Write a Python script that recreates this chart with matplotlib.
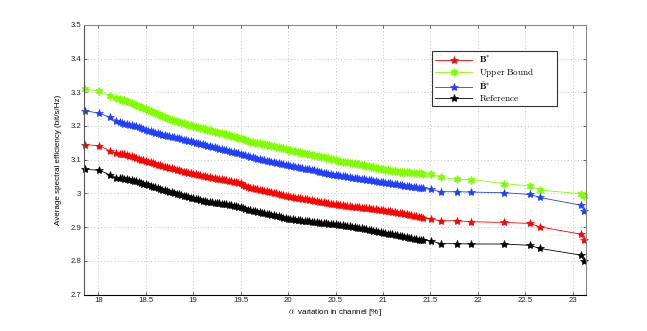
import matplotlib

matplotlib.use("Agg")
import matplotlib.pyplot as plt

# alpha variation in channel [%] -- a few sparse points, a dense run, then sparse again
alpha_pct = [
    17.86, 18.01, 18.12, 18.19,
    18.225, 18.25, 18.275, 18.30, 18.325, 18.35, 18.375, 18.40,
    18.425, 18.45, 18.475, 18.50, 18.525, 18.55, 18.575, 18.60,
    18.625, 18.65, 18.675, 18.70, 18.725, 18.75, 18.775, 18.80,
    18.825, 18.85, 18.875, 18.90, 18.925, 18.95, 18.975, 19.00,
    19.025, 19.05, 19.075, 19.10, 19.125, 19.15, 19.175, 19.20,
    19.225, 19.25, 19.275, 19.30, 19.325, 19.35, 19.375, 19.40,
    19.425, 19.45, 19.475, 19.50, 19.525, 19.55, 19.575, 19.60,
    19.625, 19.65, 19.675, 19.70, 19.725, 19.75, 19.775, 19.80,
    19.825, 19.85, 19.875, 19.90, 19.925, 19.95, 19.975, 20.00,
    20.025, 20.05, 20.075, 20.10, 20.125, 20.15, 20.175, 20.20,
    20.225, 20.25, 20.275, 20.30, 20.325, 20.35, 20.375, 20.40,
    20.425, 20.45, 20.475, 20.50, 20.525, 20.55, 20.575, 20.60,
    20.625, 20.65, 20.675, 20.70, 20.725, 20.75, 20.775, 20.80,
    20.825, 20.85, 20.875, 20.90, 20.925, 20.95, 20.975, 21.00,
    21.025, 21.05, 21.075, 21.10, 21.125, 21.15, 21.175, 21.20,
    21.225, 21.25, 21.275, 21.30, 21.325, 21.35, 21.375, 21.40,
    21.425,
    21.51, 21.61, 21.78, 21.93, 22.28, 22.55, 22.65, 23.09, 23.12,
]

b_star = [
    3.145, 3.141, 3.127, 3.119,
    3.118, 3.117, 3.116, 3.114, 3.112, 3.110, 3.107, 3.105,
    3.102, 3.100, 3.098, 3.096, 3.094, 3.092, 3.090, 3.088,
    3.085, 3.083, 3.081, 3.079, 3.077, 3.076, 3.074, 3.072,
    3.070, 3.068, 3.066, 3.065, 3.063, 3.062, 3.060, 3.059,
    3.057, 3.056, 3.054, 3.053, 3.051, 3.050, 3.048, 3.047,
    3.045, 3.044, 3.043, 3.042, 3.040, 3.039, 3.037, 3.036,
    3.034, 3.033, 3.031, 3.030, 3.026, 3.023, 3.020, 3.017,
    3.015, 3.014, 3.012, 3.011, 3.009, 3.008, 3.006, 3.005,
    3.003, 3.002, 3.000, 2.998, 2.996, 2.994, 2.992, 2.991,
    2.990, 2.989, 2.987, 2.986, 2.985, 2.984, 2.983, 2.982,
    2.981, 2.980, 2.978, 2.977, 2.976, 2.975, 2.974, 2.973,
    2.971, 2.970, 2.969, 2.968, 2.967, 2.966, 2.965, 2.964,
    2.963, 2.962, 2.961, 2.961, 2.960, 2.959, 2.958, 2.957,
    2.956, 2.956, 2.955, 2.954, 2.953, 2.952, 2.951, 2.950,
    2.949, 2.948, 2.947, 2.946, 2.944, 2.943, 2.942, 2.941,
    2.939, 2.938, 2.936, 2.935, 2.933, 2.932, 2.930, 2.929,
    2.927,
    2.924, 2.919, 2.919, 2.916, 2.914, 2.911, 2.901, 2.879, 2.861,
]

upper_bound = [
    3.309, 3.304, 3.290, 3.282,
    3.280, 3.278, 3.277, 3.274, 3.270, 3.268, 3.264, 3.261,
    3.259, 3.256, 3.253, 3.251, 3.248, 3.245, 3.241, 3.239,
    3.236, 3.233, 3.230, 3.227, 3.225, 3.222, 3.219, 3.217,
    3.215, 3.213, 3.210, 3.209, 3.206, 3.204, 3.202, 3.200,
    3.198, 3.196, 3.195, 3.193, 3.191, 3.189, 3.187, 3.185,
    3.183, 3.181, 3.180, 3.178, 3.176, 3.175, 3.173, 3.171,
    3.169, 3.167, 3.165, 3.163, 3.160, 3.158, 3.155, 3.153,
    3.152, 3.151, 3.150, 3.149, 3.148, 3.147, 3.145, 3.144,
    3.142, 3.141, 3.139, 3.138, 3.136, 3.134, 3.132, 3.130,
    3.128, 3.127, 3.125, 3.124, 3.122, 3.121, 3.119, 3.118,
    3.116, 3.115, 3.113, 3.112, 3.110, 3.109, 3.107, 3.106,
    3.104, 3.102, 3.101, 3.099, 3.097, 3.096, 3.094, 3.093,
    3.092, 3.091, 3.090, 3.089, 3.087, 3.086, 3.084, 3.083,
    3.081, 3.080, 3.078, 3.077, 3.075, 3.074, 3.072, 3.071,
    3.070, 3.069, 3.068, 3.067, 3.066, 3.066, 3.065, 3.065,
    3.064, 3.063, 3.063, 3.062, 3.061, 3.061, 3.060, 3.060,
    3.059,
    3.057, 3.048, 3.042, 3.041, 3.029, 3.022, 3.010, 2.999, 2.993,
]

b_hat_star = [
    3.245, 3.238, 3.226, 3.216,
    3.213, 3.210, 3.207, 3.205, 3.203, 3.202, 3.200, 3.199,
    3.196, 3.193, 3.190, 3.188, 3.186, 3.184, 3.182, 3.180,
    3.178, 3.176, 3.174, 3.172, 3.170, 3.169, 3.167, 3.166,
    3.164, 3.163, 3.161, 3.159, 3.157, 3.156, 3.154, 3.153,
    3.151, 3.149, 3.147, 3.146, 3.144, 3.142, 3.140, 3.139,
    3.137, 3.135, 3.133, 3.131, 3.129, 3.128, 3.126, 3.124,
    3.122, 3.121, 3.119, 3.117, 3.115, 3.113, 3.111, 3.109,
    3.107, 3.105, 3.103, 3.101, 3.100, 3.098, 3.096, 3.095,
    3.093, 3.092, 3.090, 3.089, 3.087, 3.086, 3.085, 3.084,
    3.082, 3.081, 3.079, 3.078, 3.076, 3.075, 3.073, 3.072,
    3.071, 3.070, 3.068, 3.067, 3.065, 3.064, 3.062, 3.061,
    3.059, 3.058, 3.056, 3.055, 3.054, 3.053, 3.052, 3.051,
    3.050, 3.049, 3.047, 3.046, 3.045, 3.044, 3.043, 3.042,
    3.041, 3.040, 3.039, 3.038, 3.036, 3.035, 3.034, 3.033,
    3.032, 3.031, 3.030, 3.029, 3.028, 3.027, 3.025, 3.024,
    3.023, 3.022, 3.021, 3.020, 3.019, 3.018, 3.017, 3.016,
    3.015,
    3.012, 3.005, 3.005, 3.004, 3.002, 2.997, 2.988, 2.965, 2.947,
]

reference = [
    3.071, 3.069, 3.055, 3.047,
    3.046, 3.045, 3.044, 3.043, 3.041, 3.040, 3.038, 3.037,
    3.034, 3.032, 3.029, 3.027, 3.025, 3.023, 3.020, 3.018,
    3.015, 3.013, 3.011, 3.009, 3.007, 3.005, 3.003, 3.001,
    2.999, 2.997, 2.995, 2.993, 2.991, 2.989, 2.987, 2.985,
    2.983, 2.982, 2.980, 2.979, 2.977, 2.976, 2.975, 2.974,
    2.973, 2.972, 2.971, 2.970, 2.969, 2.968, 2.966, 2.965,
    2.964, 2.963, 2.961, 2.960, 2.957, 2.955, 2.952, 2.950,
    2.948, 2.947, 2.946, 2.945, 2.943, 2.942, 2.940, 2.939,
    2.937, 2.936, 2.934, 2.932, 2.930, 2.928, 2.926, 2.925,
    2.924, 2.923, 2.922, 2.921, 2.920, 2.919, 2.918, 2.918,
    2.917, 2.916, 2.915, 2.914, 2.913, 2.913, 2.912, 2.911,
    2.910, 2.910, 2.909, 2.908, 2.907, 2.906, 2.905, 2.904,
    2.903, 2.902, 2.900, 2.899, 2.898, 2.897, 2.896, 2.895,
    2.894, 2.893, 2.891, 2.890, 2.888, 2.887, 2.885, 2.884,
    2.882, 2.881, 2.880, 2.879, 2.877, 2.876, 2.875, 2.874,
    2.872, 2.871, 2.869, 2.868, 2.866, 2.865, 2.863, 2.862,
    2.861,
    2.859, 2.851, 2.851, 2.850, 2.850, 2.846, 2.837, 2.817, 2.799,
]

x_ticks = [18, 18.5, 19, 19.5, 20, 20.5, 21, 21.5, 22, 22.5, 23]
y_ticks = [2.7, 2.8, 2.9, 3.0, 3.1, 3.2, 3.3, 3.4, 3.5]
y_tick_labels = ["2.7", "2.8", "2.9", "3", "3.1", "3.2", "3.3", "3.4", "3.5"]


def main():
    plt.rcParams["font.family"] = "Liberation Sans"
    plt.rcParams["mathtext.fontset"] = "cm"

    fig = plt.figure(figsize=(6.47, 3.31), dpi=100)
    ax = fig.add_axes([0.13, 0.11, 0.775, 0.815])

    # legend order: red, green, blue, black
    series = [
        (b_star, "#ff0000", "*", r"$\mathbf{B}^{*}$"),
        (upper_bound, "#80ff00", (6, 1, 0), r"$\mathrm{Upper\ Bound}$"),
        (b_hat_star, "#2040ff", "*", r"$\hat{\mathbf{B}}^{*}$"),
        (reference, "#000000", "*", r"$\mathrm{Reference}$"),
    ]
    for values, color, marker, label in series:
        ax.plot(
            alpha_pct,
            values,
            color=color,
            marker=marker,
            markersize=6,
            markeredgewidth=0.5,
            linewidth=0.6,
            label=label,
            clip_on=False,
        )

    ax.set_xlim(17.85, 23.135)
    ax.set_ylim(2.7, 3.5)
    ax.set_xticks(x_ticks)
    ax.set_xticklabels([f"{t:g}" for t in x_ticks])
    ax.set_yticks(y_ticks)
    ax.set_yticklabels(y_tick_labels)

    ax.grid(True, linestyle=(0, (1, 3)), color="#b0b0b0", linewidth=0.6)
    ax.tick_params(
        direction="in", length=2.5, width=0.5, labelsize=5.6, pad=2,
        top=True, right=True, colors="#222222",
    )
    for side in ["top", "right"]:
        ax.spines[side].set_color("#888888")
    ax.spines["left"].set_color("#555555")
    ax.spines["bottom"].set_color("#000000")
    for sp in ax.spines.values():
        sp.set_linewidth(0.8)

    ax.set_xlabel(r"$\alpha$  variation in channel [%]", fontsize=5.8, labelpad=2)
    ax.set_ylabel("Average spectral efficiency (bit/s/Hz)", fontsize=5.8, labelpad=6)

    # legend box sits at roughly x 432-557 px, y 51-99 px in the reference
    leg = ax.legend(
        loc="upper left",
        bbox_to_anchor=(432 / 647, 1 - 99 / 331, 125 / 647, 48 / 331),
        bbox_transform=fig.transFigure,
        mode="expand",
        borderaxespad=0,
        fontsize=6.6,
        numpoints=1,
        handlelength=4.0,
        handletextpad=0.8,
        labelspacing=0.08,
        borderpad=0.35,
        fancybox=False,
        framealpha=1,
        edgecolor="#333333",
    )
    leg.get_frame().set_linewidth(0.8)

    fig.savefig("out.png", dpi=100)


if __name__ == "__main__":
    main()
